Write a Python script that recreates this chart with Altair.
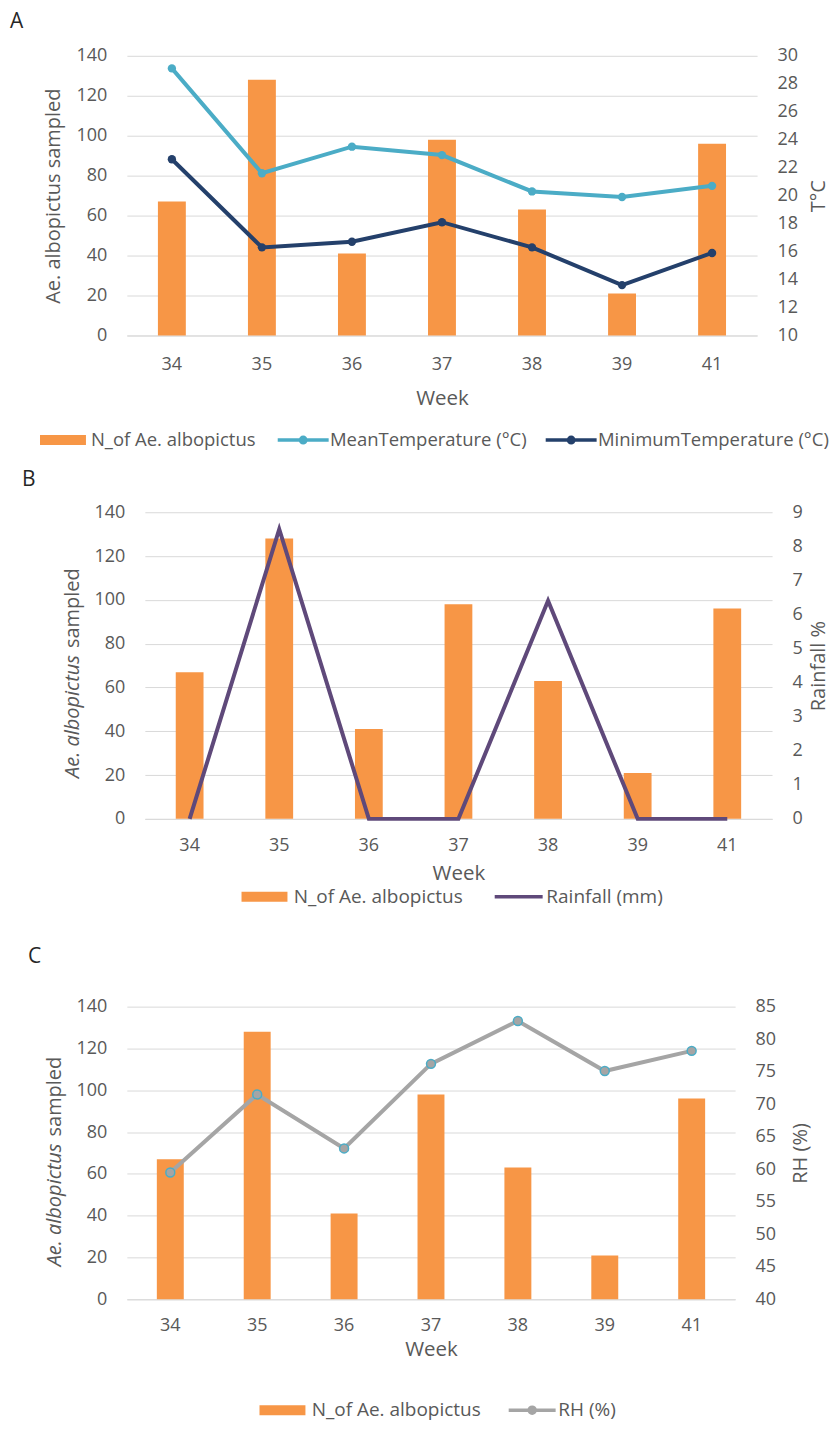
import altair as alt
import pandas as pd

# ---------------- data ----------------
weeks = ["34", "35", "36", "37", "38", "39", "41"]
n_albopictus = [67, 128, 41, 98, 63, 21, 96]
mean_temp = [29.1, 21.6, 23.5, 22.9, 20.3, 19.9, 20.7]
min_temp = [22.6, 16.3, 16.7, 18.1, 16.3, 13.6, 15.9]
rainfall = [0, 8.5, 0, 0, 6.4, 0, 0]
rh = [59.5, 71.5, 63.2, 76.2, 82.8, 75.1, 78.2]

left_ticks = [0, 20, 40, 60, 80, 100, 120, 140]
temp_ticks = [10, 12, 14, 16, 18, 20, 22, 24, 26, 28, 30]
rain_ticks = [0, 1, 2, 3, 4, 5, 6, 7, 8, 9]
rh_ticks = [40, 45, 50, 55, 60, 65, 70, 75, 80, 85]

BAR = "N_of Ae. albopictus"
MEAN = "MeanTemperature (°C)"
MINT = "MinimumTemperature (°C)"
RAIN = "Rainfall (mm)"
RHS = "RH (%)"

ORANGE = "#F79646"
LBLUE = "#4BACC6"
NAVY = "#24406B"
PURPLE = "#5F497A"
GRAY = "#A5A5A5"
TXT = "#595959"
GRID = "#D9D9D9"
FONT = "Open Sans"

RECT = "M-4.6,-1H4.6V1H-4.6Z"
LINE_A = ("M-5.1,0H5.1 M0.55,0A0.55,0.55 0 1,1 -0.55,0A0.55,0.55 0 1,1 0.55,0 "
          "M0.2,0A0.2,0.2 0 1,1 -0.2,0A0.2,0.2 0 1,1 0.2,0")
LINE_RAIN = "M-4.8,0H4.8"
LINE_RH = ("M-4.7,0H4.7 M0.6,0A0.6,0.6 0 1,1 -0.6,0A0.6,0.6 0 1,1 0.6,0 "
           "M0.2,0A0.2,0.2 0 1,1 -0.2,0A0.2,0.2 0 1,1 0.2,0")


def make_legend(shape, lx, ly, loff, fsize=19, colpad=0, ncol=1):
    return alt.Legend(
        orient="none", legendX=lx, legendY=ly, direction="horizontal",
        columns=ncol, title=None, symbolSize=100, symbolType=shape,
        symbolStrokeWidth=3.5, labelOffset=loff, columnPadding=colpad,
        labelFontSize=fsize, labelColor=TXT, labelFont=FONT, labelLimit=600,
        padding=0, symbolOpacity=1,
    )


def x_axis(lp, tp, off=0):
    return alt.Axis(title="Week", labelAngle=0, ticks=False, tickSize=0, domainColor=GRID,
                    domainWidth=1, labelFontSize=18, labelColor=TXT, labelPadding=lp,
                    titleFontSize=20.5, titleColor=TXT, titleFontWeight="normal",
                    titlePadding=tp, offset=off)


def left_axis(title, off=0):
    return alt.Axis(orient="left", values=left_ticks, grid=True, gridColor=GRID, domain=False,
                    ticks=False, tickSize=0, labelFontSize=18, labelColor=TXT, labelPadding=20,
                    title=title, titleFontSize=20, titleColor=TXT, titleFontWeight="normal",
                    titlePadding=13, offset=off)


def right_axis(values, title, tp):
    return alt.Axis(orient="right", values=values, grid=False, domain=False, ticks=False,
                    tickSize=0, labelFontSize=18, labelColor=TXT, labelPadding=20,
                    title=title, titleFontSize=20, titleColor=TXT, titleFontWeight="normal",
                    titleAngle=270, titleBaseline="top", titlePadding=tp)


def letter(t, x, y):
    return alt.Chart(pd.DataFrame({"t": [t]})).mark_text(
        align="left", baseline="top", fontSize=21, color="#262626", font=FONT
    ).encode(text="t:N", x=alt.value(x), y=alt.value(y))


def side_title(t, x, y, italic):
    kw = dict(angle=270, align="left", baseline="middle", fontSize=20, color=TXT, font=FONT)
    if italic:
        kw["fontStyle"] = "italic"
    return alt.Chart(pd.DataFrame({"t": [t]})).mark_text(**kw).encode(
        text="t:N", x=alt.value(x), y=alt.value(y))


# ---------------- panel A ----------------
dfA_bar = pd.DataFrame({"week": weeks, "value": n_albopictus, "series": BAR})
dfA_line = pd.DataFrame({"week": weeks * 2, "value": mean_temp + min_temp,
                         "series": [MEAN] * len(weeks) + [MINT] * len(weeks)})
xA = alt.X("week:O", sort=weeks, scale=alt.Scale(paddingInner=0, paddingOuter=0),
           axis=x_axis(20, 15))
barsA = alt.Chart(dfA_bar).mark_bar(width={"band": 0.31}).encode(
    x=xA,
    y=alt.Y("value:Q", scale=alt.Scale(domain=[0, 140], nice=False),
            axis=left_axis("Ae. albopictus sampled")),
    color=alt.Color("series:N", scale=alt.Scale(domain=[BAR], range=[ORANGE]),
                    legend=make_legend(RECT, -73.2, 375.5, 18.7, 18.5)),
)
linesA = alt.Chart(dfA_line).mark_line(strokeWidth=4, point=alt.OverlayMarkDef(filled=True, size=70)).encode(
    x=xA,
    y=alt.Y("value:Q", scale=alt.Scale(domain=[10, 30], nice=False),
            axis=right_axis(temp_ticks, "T°C", 11)),
    color=alt.Color("series:N", scale=alt.Scale(domain=[MEAN, MINT], range=[LBLUE, NAVY]),
                    legend=make_legend(LINE_A, 167.3, 375.5, 17.5, 18.5, 10.3, 2)),
)
panelA = alt.layer(barsA, linesA, letter("A", -117, -44.6)).resolve_scale(
    y="independent", color="independent").properties(width=631, height=280)

# ---------------- panel B ----------------
dfB_bar = pd.DataFrame({"week": weeks, "value": n_albopictus, "series": BAR})
dfB_line = pd.DataFrame({"week": weeks, "value": rainfall, "series": RAIN})
xB = alt.X("week:O", sort=weeks, scale=alt.Scale(paddingInner=0, paddingOuter=0, range=[18, 646]),
           axis=x_axis(18, 9, -11))
barsB = alt.Chart(dfB_bar).mark_bar(width={"band": 0.31}).encode(
    x=xB,
    y=alt.Y("value:Q", scale=alt.Scale(domain=[0, 140], nice=False, range=[307, 0]),
            axis=left_axis(None, -18)),
    color=alt.Color("series:N", scale=alt.Scale(domain=[BAR], range=[ORANGE]),
                    legend=make_legend(RECT, 128.3, 375.5, 19.7)),
)
lineB = alt.Chart(dfB_line).mark_line(strokeWidth=4).encode(
    x=xB,
    y=alt.Y("value:Q", scale=alt.Scale(domain=[0, 9], nice=False, range=[307, 0]),
            axis=right_axis(rain_ticks, "Rainfall %", 6)),
    color=alt.Color("series:N", scale=alt.Scale(domain=[RAIN], range=[PURPLE]),
                    legend=make_legend(LINE_RAIN, 382.8, 375.5, 18.2)),
)
panelB = alt.layer(
    barsB, lineB,
    side_title("Ae. albopictus", -54, 266, True),
    side_title("sampled", -54, 136, False),
    letter("B", -105, -43.6),
).resolve_scale(y="independent", color="independent").properties(width=646, height=318)

# ---------------- panel C ----------------
dfC_bar = pd.DataFrame({"week": weeks, "value": n_albopictus, "series": BAR})
dfC_line = pd.DataFrame({"week": weeks, "value": rh, "series": RHS})
xC = alt.X("week:O", sort=weeks, scale=alt.Scale(paddingInner=0, paddingOuter=0),
           axis=x_axis(17, 5))
barsC = alt.Chart(dfC_bar).mark_bar(width={"band": 0.31}).encode(
    x=xC,
    y=alt.Y("value:Q", scale=alt.Scale(domain=[0, 140], nice=False),
            axis=left_axis(None)),
    color=alt.Color("series:N", scale=alt.Scale(domain=[BAR], range=[ORANGE]),
                    legend=make_legend(RECT, 146.3, 394.5, 19.7)),
)
lineC = alt.Chart(dfC_line).mark_line(
    strokeWidth=4,
    point=alt.OverlayMarkDef(filled=True, fill=GRAY, stroke=LBLUE, strokeWidth=1.5, size=80),
).encode(
    x=xC,
    y=alt.Y("value:Q", scale=alt.Scale(domain=[40, 85], nice=False),
            axis=right_axis(rh_ticks, "RH (%)", 15)),
    color=alt.Color("series:N", scale=alt.Scale(domain=[RHS], range=[GRAY]),
                    legend=make_legend(LINE_RH, 396.3, 394.5, 16.7)),
)
panelC = alt.layer(
    barsC, lineC,
    side_title("Ae. albopictus", -72, 260, True),
    side_title("sampled", -72, 130, False),
    letter("C", -99, -61.1),
).resolve_scale(y="independent", color="independent").properties(width=609, height=293)

chart = alt.vconcat(panelA, panelB, panelC, spacing=177, bounds="flush").resolve_scale(
    color="independent", x="independent"
).properties(
    padding={"left": 2, "top": 2, "right": 0, "bottom": 0}
).configure(font=FONT).configure_view(stroke=None)

chart.save("out.html", embed_options={"renderer": "svg", "actions": False})
